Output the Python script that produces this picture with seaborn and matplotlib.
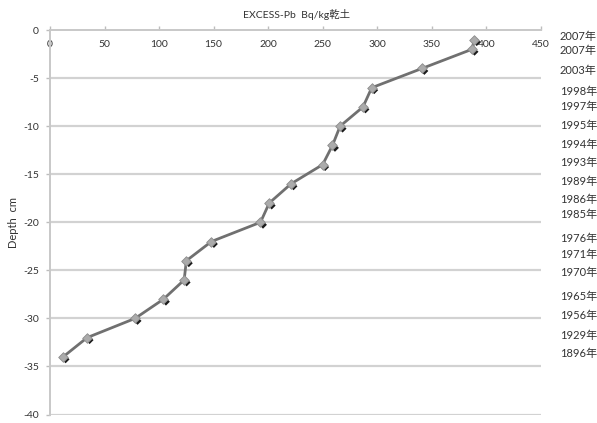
"""
Excess-Pb depth profile with estimated deposition years
"""

import matplotlib
matplotlib.use("Agg")
import matplotlib.pyplot as plt
import matplotlib.transforms as mtransforms
import seaborn as sns
import pandas as pd

# Data
excess_pb = [389, 387, 341, 295, 287, 266, 259, 250, 221, 201,
             193, 148, 125, 123, 104, 78, 34, 12]
depth = [-1, -2, -4, -6, -8, -10, -12, -14, -16, -18,
         -20, -22, -24, -26, -28, -30, -32, -34]
years = ["2007年", "2007年", "2003年", "1998年", "1997年", "1995年",
         "1994年", "1993年", "1989年", "1986年", "1985年", "1976年",
         "1971年", "1970年", "1965年", "1956年", "1929年", "1896年"]
# where the year labels sit on the right (depth units, hand placed in the original)
year_label_y = [-0.7, -2.1, -4.2, -6.4, -8.0, -9.9, -11.9, -13.8, -15.8,
                -17.6, -19.2, -21.7, -23.4, -25.2, -27.7, -29.7, -31.8, -33.7]
x_ticks = [0, 50, 100, 150, 200, 250, 300, 350, 400, 450]
y_ticks = [0, -5, -10, -15, -20, -25, -30, -35, -40]

df = pd.DataFrame({"pb": excess_pb, "depth": depth})

sns.set_style("white")
fonts = ["Lato", "Noto Sans CJK JP", "DejaVu Sans"]
plt.rcParams["font.family"] = fonts

fig = plt.figure(figsize=(5.97, 4.23), dpi=100)
ax = fig.add_axes([0.0838, 0.02, 0.822, 0.909])

# gridlines
for yv in y_ticks[1:]:
    ax.axhline(yv, color="#d2d2d2", lw=1.6, zorder=0)

# line
sns.lineplot(data=df, x="pb", y="depth", sort=False, color="#707070",
             lw=2.0, ax=ax, zorder=2)

# dark shadow markers, offset down-right
shadow = mtransforms.offset_copy(ax.transData, fig=fig, x=2.5, y=-2.5, units="dots")
sns.scatterplot(data=df, x="pb", y="depth", marker="D", s=16, color="#1a1a1a",
                edgecolor="none", transform=shadow, ax=ax, zorder=3)
# gray diamond markers
sns.scatterplot(data=df, x="pb", y="depth", marker="D", s=24, color="#ababab",
                edgecolor="#8c8c8c", linewidth=0.6, ax=ax, zorder=4)

ax.set_xlim(0, 450)
ax.set_ylim(-40, 0)
ax.set_xticks(x_ticks)
ax.set_yticks(y_ticks)
ax.set_xticklabels([str(v) for v in x_ticks])
ax.set_yticklabels([str(v) for v in y_ticks])

ax.xaxis.tick_top()
ax.tick_params(axis="x", top=True, bottom=False, labeltop=True, labelbottom=False,
               direction="out", length=3, width=1, color="#bdbdbd",
               pad=-17, labelsize=7.5, labelcolor="#333333")
ax.tick_params(axis="y", left=True, direction="out", length=3, width=1,
               color="#bdbdbd", pad=5, labelsize=7.5, labelcolor="#333333")

for side in ["right", "bottom"]:
    ax.spines[side].set_visible(False)
for side in ["left", "top"]:
    ax.spines[side].set_color("#c8c8c8")
    ax.spines[side].set_linewidth(1.4)

ax.set_xlabel("")
ax.set_ylabel("Depth  cm", fontsize=8, color="#333333", labelpad=3)

fig.text(0.496, 0.965, "EXCESS-Pb  Bq/kg乾土", ha="center", va="center",
         fontsize=7.5, color="#333333", family=fonts)

# year labels to the right of the plot
ytrans = mtransforms.blended_transform_factory(fig.transFigure, ax.transData)
for label, yv in zip(years, year_label_y):
    ax.text(0.938, yv, label, transform=ytrans, ha="left", va="center",
            fontsize=8, color="#333333", clip_on=False, family=fonts)

fig.savefig("out.png", dpi=100)
